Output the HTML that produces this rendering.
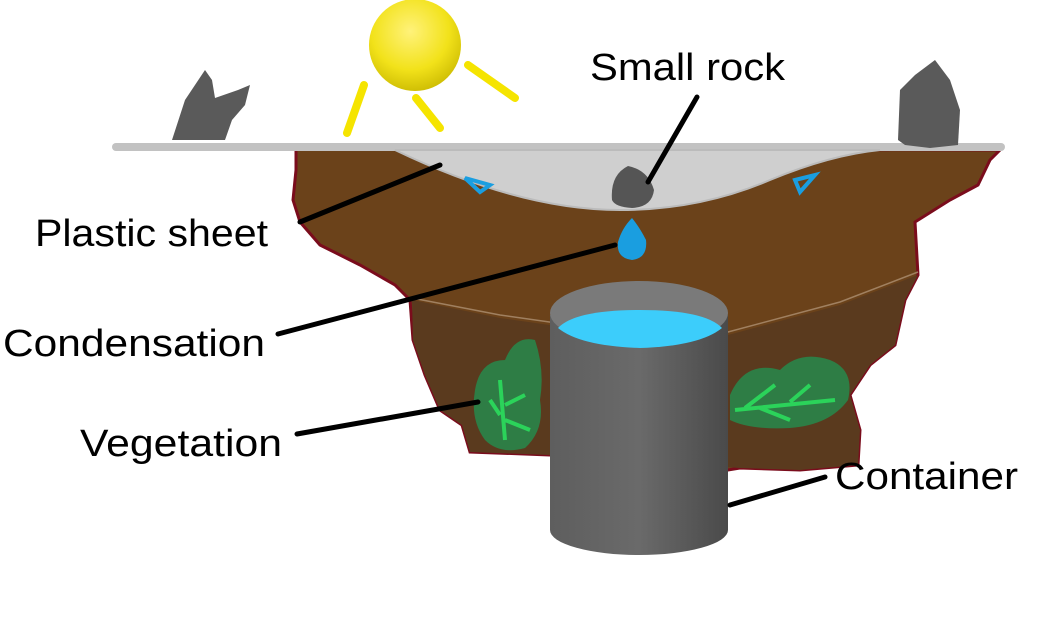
<!DOCTYPE html>
<html><head><meta charset="utf-8"><style>
html,body{margin:0;padding:0;background:#fff;width:1042px;height:629px;overflow:hidden}
text{font-family:"Liberation Sans",sans-serif;font-size:38px;fill:#000}
</style></head><body>
<svg width="1042" height="629" viewBox="0 0 1042 629">
<defs>
<radialGradient id="sun" cx="0.45" cy="0.35" r="0.7"><stop offset="0" stop-color="#fff27a"/><stop offset="0.6" stop-color="#f2e21a"/><stop offset="1" stop-color="#c9b800"/></radialGradient>
<linearGradient id="cyl" x1="0" x2="1"><stop offset="0" stop-color="#5e5e5e"/><stop offset="0.5" stop-color="#6a6a6a"/><stop offset="1" stop-color="#4a4a4a"/></linearGradient>
</defs>
<g>
<circle cx="415" cy="45" r="46" fill="url(#sun)"/>
<g stroke="#f5e400" stroke-width="8" stroke-linecap="round">
<line x1="364" y1="85" x2="347" y2="133"/><line x1="416" y1="98" x2="440" y2="128"/><line x1="468" y1="65" x2="515" y2="98"/>
</g></g>
<g>
<path d="M296,148 L1000,150 L990,160 L978,185 L950,200 L915,222 L918,275 L905,300 L895,345 L870,365 L850,395 L860,430 L858,465 L800,470 L740,468 L728,470 L550,455 L470,452 L462,425 L440,410 L425,375 L413,340 L410,300 L395,285 L360,265 L320,245 L300,222 L293,200 L296,170 Z" fill="#6b421a" stroke="#7a0c1c" stroke-width="3"/>
<path d="M412,300 L500,318 L620,335 L728,335 L840,305 L918,275 L905,300 L895,345 L870,365 L850,395 L860,430 L858,465 L800,470 L740,468 L550,455 L470,452 L462,425 L440,410 L425,375 L413,340 Z" fill="#5a3a1e"/>
<path d="M412,298 L500,315 L620,332 L728,332 L840,302 L918,272" fill="none" stroke="#a08060" stroke-width="1.5"/>
</g>
<rect x="112" y="143" width="893" height="8" rx="4" fill="#c2c2c2"/>
<path d="M395,150 Q520,210 620,210 Q700,210 770,180 Q830,155 880,150 Z" fill="#cfcfcf" stroke="#bbb" stroke-width="2"/>
<path d="M172,140 L185,100 L205,70 L212,80 L215,98 L238,90 L250,85 L245,105 L232,120 L225,140 Z" fill="#5a5a5a"/>
<path d="M898,140 L900,90 L915,75 L935,60 L950,80 L960,110 L958,145 L930,148 L905,145 Z" fill="#5a5a5a"/>
<path d="M612,200 Q610,175 628,166 Q648,170 654,190 Q652,207 632,208 Q615,207 612,200 Z" fill="#555"/>
<path d="M632,218 Q640,228 646,240 Q648,258 632,260 Q616,258 618,242 Q622,228 632,218 Z" fill="#1a9ee0"/>
<path d="M465,178 L490,185 L480,192 Z M795,180 L815,175 L800,192 Z" fill="none" stroke="#1a9ee0" stroke-width="4"/>
<g>
<path d="M475,390 Q480,360 505,360 Q515,335 535,340 Q545,370 540,400 Q545,430 525,448 Q500,455 485,440 Q470,420 475,390 Z" fill="#2e7d45"/>
<path d="M500,380 L505,440 M505,405 L525,395 M505,420 L530,430 M490,400 L500,415" stroke="#2bd35a" stroke-width="4" fill="none"/>
<path d="M730,395 Q745,360 780,370 Q800,350 830,360 Q855,370 848,400 Q830,425 790,428 Q750,430 730,420 Z" fill="#2e7d45"/>
<path d="M735,410 L835,400 M745,408 L775,385 M760,408 L790,420 M790,402 L810,385" stroke="#2bd35a" stroke-width="4" fill="none"/>
</g>
<g>
<path d="M550,315 L550,530 A89,25 0 0 0 728,530 L728,315 Z" fill="url(#cyl)"/>
<ellipse cx="639" cy="313" rx="89" ry="32" fill="#7a7a7a"/>
<path d="M558,328 Q575,310 640,310 Q705,310 722,328 Q700,346 640,348 Q580,346 558,328 Z" fill="#3ccdfb"/>
</g>
<g stroke="#000" stroke-width="5" stroke-linecap="round">
<line x1="697" y1="97" x2="648" y2="182"/>
<line x1="440" y1="165" x2="300" y2="222"/>
<line x1="615" y1="245" x2="278" y2="334"/>
<line x1="478" y1="402" x2="297" y2="434"/>
<line x1="825" y1="477" x2="730" y2="505"/>
</g>
<text x="590" y="80" textLength="195" lengthAdjust="spacingAndGlyphs">Small rock</text>
<text x="35" y="246" textLength="233" lengthAdjust="spacingAndGlyphs">Plastic sheet</text>
<text x="3" y="356" textLength="262" lengthAdjust="spacingAndGlyphs">Condensation</text>
<text x="80" y="456" textLength="202" lengthAdjust="spacingAndGlyphs">Vegetation</text>
<text x="835" y="489" textLength="183" lengthAdjust="spacingAndGlyphs">Container</text>
</svg>
</body></html>
